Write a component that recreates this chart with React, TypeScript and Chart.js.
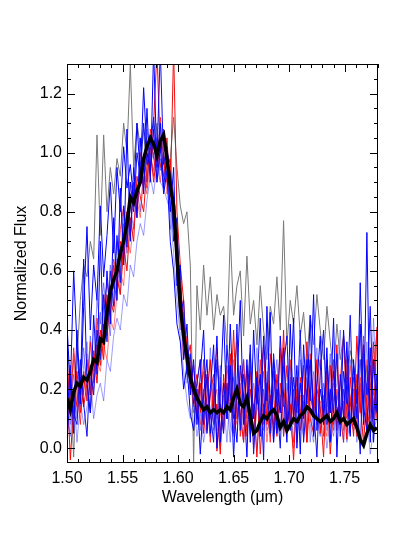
import React, { useEffect, useRef } from "react";
import { Chart, registerables } from "chart.js";

Chart.register(...registerables);

const wavelength = [
  1.500, 1.503, 1.506, 1.509, 1.512, 1.515, 1.518, 1.521, 1.524, 1.527,
  1.530, 1.533, 1.536, 1.539, 1.542, 1.545, 1.548, 1.551, 1.554, 1.557,
  1.560, 1.563, 1.566, 1.569, 1.572, 1.575, 1.578, 1.581, 1.584, 1.587,
  1.590, 1.593, 1.596, 1.599, 1.602, 1.605, 1.608, 1.611, 1.614, 1.617,
  1.620, 1.623, 1.626, 1.629, 1.632, 1.635, 1.638, 1.641, 1.644, 1.647,
  1.650, 1.653, 1.656, 1.659, 1.662, 1.665, 1.668, 1.671, 1.674, 1.677,
  1.680, 1.683, 1.686, 1.689, 1.692, 1.695, 1.698, 1.701, 1.704, 1.707,
  1.710, 1.713, 1.716, 1.719, 1.722, 1.725, 1.728, 1.731, 1.734, 1.737,
  1.740, 1.743, 1.746, 1.749, 1.752, 1.755, 1.758, 1.761, 1.764, 1.767,
  1.770, 1.773, 1.776, 1.779,
];

const meanFlux = [
  0.17, 0.13, 0.19, 0.22, 0.21, 0.24, 0.23, 0.26, 0.30, 0.29,
  0.37, 0.36, 0.46, 0.53, 0.57, 0.60, 0.66, 0.70, 0.76, 0.85,
  0.83, 0.87, 0.90, 0.98, 1.02, 1.05, 1.03, 0.99, 1.04, 1.06,
  0.98, 0.89, 0.82, 0.65, 0.48, 0.38, 0.31, 0.24, 0.20, 0.17,
  0.15, 0.13, 0.14, 0.12, 0.13, 0.12, 0.13, 0.12, 0.14, 0.13,
  0.17, 0.20, 0.15, 0.14, 0.17, 0.11, 0.05, 0.06, 0.09, 0.11,
  0.10, 0.12, 0.13, 0.11, 0.07, 0.09, 0.06, 0.08, 0.10, 0.09,
  0.11, 0.12, 0.14, 0.13, 0.11, 0.10, 0.09, 0.10, 0.11, 0.09,
  0.10, 0.12, 0.09, 0.10, 0.08, 0.09, 0.10, 0.07, 0.03, 0.01,
  0.05, 0.08, 0.06, 0.07,
];

const grayFlux = [
  0.35, 0.22, -0.03, 0.30, 0.50, 0.62, 0.58, 0.70, 0.64, 1.06,
  0.72, 1.06, 0.80, 0.95, 0.86, 0.98, 0.92, 1.10, 1.00, 1.30,
  0.95, 1.10, 1.02, 1.08, 0.90, 1.05, 0.98, 1.10, 0.95, 1.00,
  0.94, 0.98, 1.12, 0.95, 0.82, 0.76, 0.80, 0.62, -0.05, 0.55,
  0.40, 0.62, 0.45, 0.58, 0.40, 0.52, 0.45, 0.48, 0.35, 0.72,
  0.45, 0.55, 0.60, 0.38, 0.65, 0.42, 0.50, 0.35, 0.55, 0.40,
  0.30, 0.48, 0.42, 0.58, 0.40, 0.77, 0.35, 0.50, 0.42, 0.55,
  0.38, 0.46, 0.30, 0.45, 0.35, 0.52, 0.40, 0.30, 0.48, 0.36,
  0.25, 0.42, 0.30, 0.38, 0.22, 0.33, 0.28, 0.20, 0.30, 0.15,
  0.28, 0.22, 0.18, 0.25,
];

const redFluxA = [
  0.22, -0.04, 0.15, 0.26, 0.12, 0.20, 0.30, 0.18, 0.33, 0.22,
  0.40, 0.30, 0.52, 0.45, 0.62, 0.55, 0.70, 0.62, 0.80, 0.72,
  0.90, 0.80, 0.95, 0.88, 1.00, 0.92, 1.10, 1.35, 1.00, 1.08,
  0.95, 0.98, 0.75, 0.70, 0.55, 0.42, 0.35, 0.20, 0.28, 0.10,
  0.22, 0.05, 0.18, 0.30, 0.08, 0.15, -0.02, 0.25, 0.10, 0.32,
  0.05, 0.20, 0.12, 0.02, 0.28, 0.10, 0.15, -0.03, 0.22, 0.35,
  0.08, 0.18, 0.05, 0.25, 0.12, 0.40, 0.06, 0.15, -0.04, 0.20,
  0.10, 0.28, 0.02, 0.18, 0.12, 0.30, 0.05, 0.16, 0.22, -0.02,
  0.14, 0.35, 0.08, 0.20, 0.03, 0.24, 0.10, 0.38, 0.15, 0.02,
  0.18, 0.28, 0.06, 0.41,
];

const redFluxB = [
  0.25, 0.18, 0.10, 0.16, 0.24, 0.14, 0.22, 0.12, 0.25, 0.35,
  0.28, 0.42, 0.38, 0.50, 0.46, 0.58, 0.52, 0.68, 0.60, 0.78,
  0.70, 0.92, 0.85, 0.80, 0.95, 1.02, 0.90, 1.00, 0.96, 0.92,
  1.05, 0.85, 1.35, 0.80, 0.62, 0.50, 0.30, 0.35, 0.18, 0.25,
  0.12, 0.30, 0.06, 0.18, 0.25, -0.01, 0.15, 0.08, 0.22, 0.12,
  0.40, 0.10, 0.18, 0.30, 0.04, 0.20, 0.12, 0.26, -0.02, 0.15,
  0.10, 0.32, 0.18, 0.04, 0.22, 0.14, 0.28, 0.08, 0.20, 0.02,
  0.24, 0.12, 0.36, 0.10, 0.05, 0.20, 0.14, -0.03, 0.26, 0.12,
  0.30, 0.06, 0.22, 0.38, 0.10, 0.16, 0.04, 0.25, 0.12, 0.32,
  0.06, 0.14, 0.36, 0.10,
];

const redFluxC = [
  0.28, 0.20, 0.30, 0.14, 0.27, 0.18, 0.32, 0.24, 0.20, 0.30,
  0.26, 0.35, 0.30, 0.44, 0.40, 0.52, 0.60, 0.55, 0.72, 0.66,
  0.76, 0.84, 0.78, 0.92, 0.86, 0.98, 0.94, 1.04, 0.90, 1.00,
  0.86, 0.92, 0.78, 0.60, 0.45, 0.30, 0.38, 0.22, 0.15, 0.20,
  0.08, 0.16, 0.24, 0.10, 0.14, 0.20, 0.06, 0.18, 0.12, 0.24,
  0.16, 0.08, 0.26, 0.12, 0.18, 0.05, 0.22, 0.14, 0.10, 0.20,
  0.02, 0.15, 0.25, 0.10, 0.06, 0.18, 0.12, 0.24, 0.08, 0.14,
  0.18, 0.06, 0.20, 0.12, 0.26, 0.08, 0.16, 0.10, 0.04, 0.18,
  0.22, 0.10, 0.14, 0.06, 0.20, 0.28, 0.12, 0.08, 0.24, 0.16,
  0.30, 0.10, 0.20, 0.14,
];

const redFluxD = [
  0.30, 0.12, 0.34, 0.20, 0.08, 0.26, 0.16, 0.36, 0.22, 0.44,
  0.34, 0.48, 0.56, 0.50, 0.64, 0.58, 0.74, 0.82, 0.70, 0.90,
  0.86, 0.78, 1.00, 0.94, 0.88, 1.08, 0.98, 0.92, 1.12, 0.96,
  0.90, 0.94, 0.86, 0.72, 0.56, 0.44, 0.26, 0.30, 0.14, 0.22,
  0.30, 0.10, 0.24, 0.02, 0.20, 0.34, 0.12, 0.06, 0.28, 0.16,
  0.24, 0.36, 0.04, 0.18, 0.10, 0.26, 0.00, 0.14, 0.30, 0.08,
  0.20, 0.02, 0.26, 0.14, 0.34, 0.04, 0.18, 0.30, 0.10, 0.24,
  0.06, 0.16, 0.02, 0.32, 0.12, 0.22, 0.30, 0.04, 0.14, 0.28,
  0.08, 0.20, 0.12, 0.02, 0.30, 0.16, 0.24, 0.04, 0.18, 0.38,
  0.10, 0.20, 0.26, 0.40,
];

const blueFluxA = [
  0.10, 0.28, 0.05, 0.40, 0.18, 0.64, 0.22, 0.12, 0.45, 0.25,
  0.70, 0.35, 0.60, 0.42, 0.78, 0.50, 0.88, 0.62, 1.08, 0.70,
  0.95, 0.78, 1.05, 0.86, 1.15, 0.90, 1.35, 0.95, 1.10, 0.88,
  1.00, 0.80, 0.95, 0.55, 0.62, 0.30, 0.42, 0.18, 0.30, 0.08,
  0.25, 0.40, 0.05, 0.20, 0.35, 0.00, 0.18, 0.45, 0.10, 0.28,
  -0.03, 0.22, 0.50, 0.08, 0.30, 0.02, 0.40, 0.15, 0.25, -0.04,
  0.48, 0.12, 0.30, 0.05, 0.38, 0.18, 0.02, 0.42, 0.10, 0.28,
  -0.02, 0.35, 0.15, 0.45, 0.04, 0.22, 0.38, 0.08, 0.30, 0.12,
  0.44, -0.03, 0.25, 0.10, 0.36, 0.05, 0.28, 0.15, 0.42, 0.08,
  0.73, 0.02, 0.30, 0.12,
];

const blueFluxB = [
  0.02, 0.20, 0.12, 0.08, 0.30, 0.15, 0.04, 0.28, 0.18, 0.40,
  0.30, 0.52, 0.36, 0.60, 0.48, 0.72, 0.56, 0.82, 0.68, 0.90,
  0.80, 1.00, 0.92, 1.10, 0.96, 1.02, 1.12, 0.98, 1.35, 0.96,
  1.02, 0.92, 0.70, 0.78, 0.45, 0.50, 0.25, 0.32, 0.15, 0.22,
  0.30, 0.08, 0.25, 0.12, 0.02, 0.30, 0.15, 0.05, 0.35, 0.18,
  0.10, 0.42, 0.06, 0.25, 0.15, 0.35, -0.02, 0.20, 0.44, 0.10,
  0.22, 0.05, 0.32, 0.16, 0.00, 0.28, 0.38, 0.06, 0.24, 0.12,
  0.40, 0.02, 0.18, 0.30, 0.14, -0.03, 0.26, 0.40, 0.08, 0.20,
  0.12, 0.32, 0.04, 0.26, 0.15, 0.45, 0.08, 0.20, -0.02, 0.35,
  0.18, 0.48, 0.10, 0.25,
];

const blueFluxC = [
  0.30, 0.15, 0.25, 0.10, 0.22, 0.34, 0.16, 0.38, 0.26, 0.50,
  0.42, 0.56, 0.44, 0.62, 0.54, 0.70, 0.60, 0.76, 0.66, 0.82,
  0.74, 0.88, 0.80, 0.94, 0.90, 1.00, 0.92, 1.05, 0.94, 0.98,
  0.90, 0.84, 0.75, 0.66, 0.55, 0.42, 0.30, 0.26, 0.12, 0.18,
  0.06, 0.20, 0.14, 0.04, 0.22, 0.10, 0.28, 0.06, 0.16, 0.02,
  0.24, 0.14, 0.08, 0.30, 0.12, 0.20, 0.05, 0.18, 0.10, 0.26,
  0.14, 0.04, 0.20, 0.30, 0.10, 0.06, 0.22, 0.16, 0.02, 0.24,
  0.12, 0.18, 0.06, 0.28, 0.16, 0.10, 0.04, 0.22, 0.14, 0.32,
  0.06, 0.18, 0.12, 0.02, 0.26, 0.14, 0.20, 0.06, 0.30, 0.10,
  0.22, 0.04, 0.16, 0.20,
];

const blueFluxD = [
  0.18, 0.08, 0.32, 0.22, 0.14, 0.28, 0.36, 0.20, 0.32, 0.28,
  0.46, 0.40, 0.50, 0.38, 0.56, 0.64, 0.52, 0.74, 0.80, 0.72,
  0.88, 0.82, 0.97, 0.90, 1.08, 0.96, 1.00, 0.90, 0.98, 0.92,
  0.96, 0.74, 0.85, 0.58, 0.40, 0.46, 0.22, 0.28, 0.20, 0.10,
  0.18, 0.26, 0.10, 0.34, 0.12, 0.06, 0.24, 0.16, 0.02, 0.20,
  0.30, 0.12, 0.22, 0.04, 0.16, 0.28, 0.10, 0.34, 0.14, 0.06,
  0.26, 0.20, 0.08, 0.18, 0.32, 0.10, 0.04, 0.28, 0.16, 0.08,
  0.30, 0.14, 0.24, 0.02, 0.20, 0.34, 0.12, 0.18, 0.06, 0.28,
  0.16, 0.22, 0.40, 0.12, 0.08, 0.30, 0.18, 0.02, 0.22, 0.14,
  0.36, 0.12, 0.44, 0.18,
];

const blueFluxE = [
  0.42, 0.20, 0.60, 0.35, 0.15, 0.48, 0.75, 0.40, 0.62, 0.50,
  0.82, 0.58, 0.72, 0.90, 0.66, 0.95, 0.80, 1.02, 0.88, 0.96,
  0.84, 1.10, 0.92, 1.22, 1.00, 0.94, 1.08, 0.90, 1.02, 0.86,
  0.94, 0.70, 0.60, 0.42, 0.36, 0.20, 0.28, 0.12, 0.06, 0.20,
  -0.02, 0.18, 0.30, 0.05, 0.15, 0.38, 0.02, 0.22, 0.10, 0.42,
  0.14, 0.02, 0.28, 0.18, -0.03, 0.32, 0.10, 0.24, 0.04, 0.38,
  0.16, 0.46, 0.02, 0.20, 0.12, 0.34, 0.06, 0.18, 0.44, 0.00,
  0.22, 0.10, 0.30, 0.16, 0.52, 0.06, 0.20, 0.12, 0.34, 0.02,
  0.26, 0.14, 0.08, 0.40, 0.18, 0.04, 0.30, 0.10, 0.56, 0.14,
  0.06, 0.34, 0.02, 0.22,
];

const blueFluxF = [
  0.12, 0.04, 0.20, 0.02, 0.16, 0.08, 0.14, 0.24, 0.10, 0.18,
  0.22, 0.16, 0.30, 0.26, 0.38, 0.44, 0.40, 0.52, 0.48, 0.62,
  0.58, 0.70, 0.76, 0.72, 0.84, 0.92, 0.86, 0.96, 0.90, 0.88,
  0.84, 0.80, 0.66, 0.50, 0.38, 0.26, 0.16, 0.10, 0.16, 0.04,
  0.12, 0.02, 0.10, 0.20, 0.06, 0.14, 0.00, 0.12, 0.22, 0.08,
  0.04, 0.16, 0.10, 0.02, 0.18, 0.06, 0.14, 0.00, 0.12, 0.20,
  0.06, 0.10, 0.02, 0.14, 0.18, 0.04, 0.12, 0.08, 0.00, 0.16,
  0.10, 0.04, 0.14, 0.08, 0.02, 0.18, 0.06, 0.12, 0.00, 0.10,
  0.04, 0.14, 0.08, 0.16, 0.02, 0.10, 0.06, 0.14, 0.00, 0.08,
  0.12, -0.02, 0.06, 0.10,
];

const xTickValues = [1.5, 1.55, 1.6, 1.65, 1.7, 1.75];
const yTickValues = [0.0, 0.2, 0.4, 0.6, 0.8, 1.0, 1.2];

const FONT = "'Liberation Sans', Arial, Helvetica, sans-serif";

const toPoints = (ys: number[]) => wavelength.map((x, i) => ({ x, y: ys[i] }));

const framePlugin = {
  id: "idlFrame",
  afterDatasetsDraw(chart: any) {
    const { ctx, chartArea: a, scales } = chart;
    const xs = scales.x;
    const ys = scales.y;
    ctx.save();
    ctx.strokeStyle = "#000";
    ctx.lineWidth = 1;
    ctx.beginPath();
    for (let i = 0; i <= 28; i++) {
      const v = 1.5 + i * 0.01;
      const px = Math.round(xs.getPixelForValue(v)) + 0.5;
      const len = i % 5 === 0 ? 8 : 4;
      ctx.moveTo(px, a.bottom);
      ctx.lineTo(px, a.bottom - len);
      ctx.moveTo(px, a.top);
      ctx.lineTo(px, a.top + len);
    }
    for (let i = 0; i <= 26; i++) {
      const v = i * 0.05;
      const py = Math.round(ys.getPixelForValue(v)) + 0.5;
      const len = i % 4 === 0 ? 8 : 4;
      ctx.moveTo(a.left, py);
      ctx.lineTo(a.left + len, py);
      ctx.moveTo(a.right, py);
      ctx.lineTo(a.right - len, py);
    }
    ctx.stroke();
    ctx.strokeRect(
      Math.round(a.left) + 0.5,
      Math.round(a.top) + 0.5,
      Math.round(a.right - a.left) - 1,
      Math.round(a.bottom - a.top) - 1
    );
    ctx.restore();
  },
};

export default function App() {
  const canvasRef = useRef<HTMLCanvasElement | null>(null);

  useEffect(() => {
    const canvas = canvasRef.current;
    if (!canvas) return;
    const line = (label: string, data: number[], color: string, order: number, width = 1) => ({
      label,
      data: toPoints(data),
      borderColor: color,
      borderWidth: width,
      pointRadius: 0,
      tension: 0,
      fill: false,
      order,
      clip: 0,
    });
    const chart = new Chart(canvas, {
      type: "line",
      data: {
        datasets: [
          line("mean", meanFlux, "#000000", 0, 3.5),
          line("blue A", blueFluxA, "#0000ff", 1),
          line("blue B", blueFluxB, "#1010f0", 1),
          line("blue E", blueFluxE, "#0000ff", 1),
          line("red A", redFluxA, "#ff0000", 2),
          line("red B", redFluxB, "#ee1010", 2),
          line("red D", redFluxD, "rgba(255,0,0,0.75)", 2),
          line("red C", redFluxC, "rgba(255,40,40,0.6)", 3),
          line("blue C", blueFluxC, "rgba(40,40,255,0.55)", 3),
          line("blue D", blueFluxD, "rgba(60,60,255,0.5)", 3),
          line("blue F", blueFluxF, "rgba(60,60,255,0.5)", 3),
          line("gray", grayFlux, "#7a7a7a", 4),
        ],
      },
      options: {
        animation: false,
        responsive: false,
        maintainAspectRatio: false,
        layout: { padding: { top: 64, right: 37, left: 0, bottom: 0 } },
        plugins: { legend: { display: false }, tooltip: { enabled: false } },
        scales: {
          x: {
            type: "linear",
            min: 1.5,
            max: 1.78,
            offset: false,
            grid: { display: false, drawTicks: false },
            border: { display: false },
            afterBuildTicks: (scale: any) => {
              scale.ticks = xTickValues.map((value) => ({ value }));
            },
            afterFit: (scale: any) => {
              scale.height = 74;
            },
            ticks: {
              padding: 6,
              color: "#000",
              font: { family: FONT, size: 16 },
              maxRotation: 0,
              callback: (v: any) => Number(v).toFixed(2),
            },
            title: {
              display: true,
              text: "Wavelength (μm)",
              color: "#000",
              font: { family: FONT, size: 16 },
              padding: { top: 0, bottom: 30 },
            },
          },
          y: {
            type: "linear",
            min: -0.05,
            max: 1.3,
            grid: { display: false, drawTicks: false },
            border: { display: false },
            afterBuildTicks: (scale: any) => {
              scale.ticks = yTickValues.map((value) => ({ value }));
            },
            afterFit: (scale: any) => {
              scale.width = 67;
            },
            ticks: {
              padding: 5,
              color: "#000",
              font: { family: FONT, size: 16 },
              callback: (v: any) => Number(v).toFixed(1),
            },
            title: {
              display: true,
              text: "Normalized Flux",
              color: "#000",
              font: { family: FONT, size: 16 },
              padding: { top: 12, bottom: 0 },
            },
          },
        },
      },
      plugins: [framePlugin],
    } as any);
    return () => chart.destroy();
  }, []);

  return (
    <div style={{ position: "absolute", left: 0, top: 0, width: 415, height: 537, background: "#fff" }}>
      <canvas ref={canvasRef} width={415} height={537} style={{ display: "block", width: 415, height: 537 }} />
    </div>
  );
}
